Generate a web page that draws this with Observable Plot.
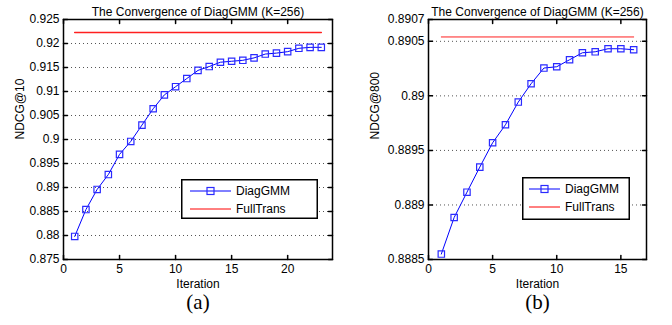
<!DOCTYPE html>
<html>
<head>
<meta charset="utf-8">
<script src="https://cdn.jsdelivr.net/npm/d3@7"></script>
<script src="https://cdn.jsdelivr.net/npm/@observablehq/plot@0.6"></script>
<style>
  html, body { margin: 0; padding: 0; background: #fff; }
  #wrap { position: relative; width: 672px; height: 325px; overflow: hidden; font-family: "Liberation Sans", Arial, sans-serif; }
  .panel { position: absolute; top: 0; width: 336px; height: 325px; }
  .legend { position: absolute; }
</style>
</head>
<body>
<div id="wrap">
  <div class="panel" id="pa" style="left:0"></div>
  <div class="panel" id="pb" style="left:336px"></div>
</div>
<script>
const titleText = "The Convergence of DiagGMM (K=256)";
const seriesNames = ["DiagGMM", "FullTrans"];

// Panel (a)
const iterA = [1,2,3,4,5,6,7,8,9,10,11,12,13,14,15,16,17,18,19,20,21,22,23];
const diagA = [0.8798,0.8854,0.8896,0.8927,0.8969,0.8996,0.9030,0.9064,0.9093,0.9110,0.9127,0.9144,0.9152,0.9161,0.9163,0.9165,0.9170,0.9178,0.9180,0.9183,0.9190,0.9192,0.9192];
const fullA = 0.9223;
const xTicksA = [0,5,10,15,20];
const yTicksA = [0.875,0.88,0.885,0.89,0.895,0.9,0.905,0.91,0.915,0.92,0.925];

// Panel (b)
const iterB = [1,2,3,4,5,6,7,8,9,10,11,12,13,14,15,16];
const diagB = [0.88855,0.888885,0.889117,0.889347,0.88957,0.889735,0.889943,0.890111,0.890255,0.890267,0.890331,0.890395,0.890404,0.890432,0.890432,0.890423];
const fullB = 0.89054;
const xTicksB = [0,5,10,15];
const yTicksB = [0.8885,0.889,0.8895,0.89,0.8905,0.8907];

const tickShape = { draw(context, l) { context.moveTo(0, 0); context.lineTo(0, -l); } };

function panel({iters, diag, full, xDomain, yDomain, xTicks, yTicks, yLabel, caption, marginLeft, marginRight, yLabelDx, fullWidth}) {
  const rows = iters.map((x, i) => ({x, y: diag[i]}));
  const fullRows = [{x: iters[0], y: full}, {x: iters[iters.length - 1], y: full}];
  const [x0, x1] = xDomain, [y0, y1] = yDomain;
  return Plot.plot({
    width: 336, height: 325,
    marginLeft, marginRight, marginTop: 19, marginBottom: 66,
    style: {fontFamily: '"Liberation Sans", Arial, sans-serif', fontSize: "12px", color: "#000", background: "#fff"},
    x: {domain: xDomain, ticks: xTicks, tickSize: 0, tickPadding: 5, label: null},
    y: {domain: yDomain, ticks: yTicks, tickSize: 0, tickPadding: 4, label: null, tickFormat: d => String(d)},
    marks: [
      Plot.gridY(yTicks.filter(t => t > y0 && t < y1), {stroke: "#555", strokeOpacity: 1, strokeDasharray: "1,3"}),
      Plot.axisX({ticks: xTicks, tickSize: 0, tickPadding: 5, fontSize: 12}),
      Plot.axisY({ticks: yTicks, tickSize: 0, tickPadding: 4, fontSize: 12, tickFormat: d => String(d)}),
      Plot.vector(xTicks, {x: d => d, y: y0, length: 4, rotate: 0, anchor: "start", shape: tickShape, stroke: "black"}),
      Plot.vector(xTicks, {x: d => d, y: y1, length: 4, rotate: 180, anchor: "start", shape: tickShape, stroke: "black"}),
      Plot.vector(yTicks, {x: x0, y: d => d, length: 4, rotate: 90, anchor: "start", shape: tickShape, stroke: "black"}),
      Plot.vector(yTicks, {x: x1, y: d => d, length: 4, rotate: 270, anchor: "start", shape: tickShape, stroke: "black"}),
      Plot.line(fullRows, {x: "x", y: "y", stroke: "#ff2020", strokeWidth: fullWidth}),
      Plot.line(rows, {x: "x", y: "y", stroke: "#0000ff", strokeWidth: 1}),
      Plot.dot(rows, {x: "x", y: "y", symbol: "square", r: 3.6, stroke: "#2a2aff", fill: "none", strokeWidth: 1.2}),
      Plot.frame({stroke: "black", strokeWidth: 1.5}),
      Plot.text([titleText], {frameAnchor: "top", dy: -12, fontSize: 12, fill: "black"}),
      Plot.text(["Iteration"], {frameAnchor: "bottom", dy: 28, fontSize: 12, fill: "black"}),
      Plot.text([yLabel], {frameAnchor: "left", dx: yLabelDx, rotate: -90, fontSize: 12, fill: "black"}),
      Plot.text([caption], {frameAnchor: "bottom", dy: 49, fontSize: 21, fontFamily: '"Liberation Serif", "Times New Roman", serif', fill: "black"})
    ]
  });
}

document.getElementById("pa").appendChild(panel({
  iters: iterA, diag: diagA, full: fullA, xDomain: [0, 24], yDomain: [0.875, 0.925],
  xTicks: xTicksA, yTicks: yTicksA, yLabel: "NDCG@10", caption: "(a)",
  marginLeft: 63, marginRight: 4, yLabelDx: -43, fullWidth: 1.6
}));
document.getElementById("pb").appendChild(panel({
  iters: iterB, diag: diagB, full: fullB, xDomain: [0, 17], yDomain: [0.8885, 0.8907],
  xTicks: xTicksB, yTicks: yTicksB, yLabel: "NDCG@800", caption: "(b)",
  marginLeft: 92, marginRight: 26, yLabelDx: -53, fullWidth: 1
}));

// Legends (overlay boxes inside each axes)
function legend({left, top, w, h, lineX0, lineX1, textX}) {
  const ns = "http://www.w3.org/2000/svg";
  const svg = document.createElementNS(ns, "svg");
  svg.setAttribute("width", w); svg.setAttribute("height", h);
  svg.setAttribute("class", "legend");
  svg.style.left = left + "px"; svg.style.top = top + "px";
  const el = (tag, attrs, text) => { const e = document.createElementNS(ns, tag); for (const k in attrs) e.setAttribute(k, attrs[k]); if (text) e.textContent = text; svg.appendChild(e); return e; };
  el("rect", {x: 0.75, y: 0.75, width: w - 1.5, height: h - 1.5, fill: "white", stroke: "black", "stroke-width": 1.5});
  const rowsY = [12, 30];
  const colors = ["#0000ff", "#ff0000"];
  seriesNames.forEach((name, i) => {
    el("line", {x1: lineX0, x2: lineX1, y1: rowsY[i], y2: rowsY[i], stroke: colors[i], "stroke-width": 1});
    if (i === 0) { const m = (lineX0 + lineX1) / 2; el("rect", {x: m - 3.5, y: rowsY[i] - 3.5, width: 7, height: 7, fill: "none", stroke: "#2a2aff", "stroke-width": 1.2}); }
    el("text", {x: textX, y: rowsY[i], dy: "0.35em", "font-size": 12, "font-family": '"Liberation Sans", Arial, sans-serif', fill: "black"}, name);
  });
  document.getElementById("wrap").appendChild(svg);
}
legend({left: 181, top: 179, w: 137, h: 40, lineX0: 9, lineX1: 50, textX: 55});
legend({left: 522, top: 177, w: 108, h: 43, lineX0: 7, lineX1: 38, textX: 43});
</script>
</body>
</html>
